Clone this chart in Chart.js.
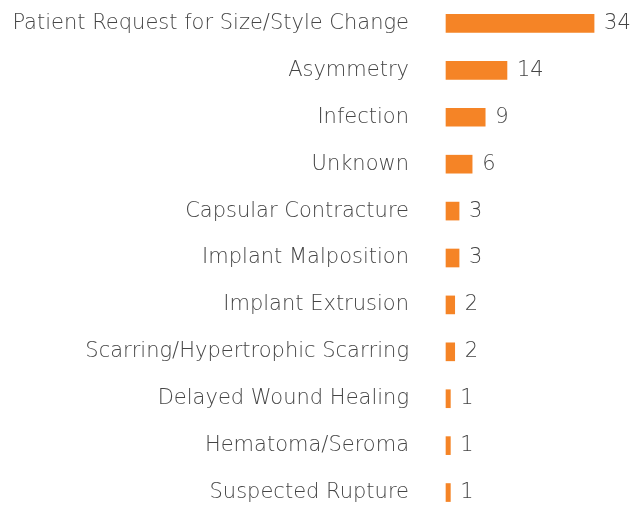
<!DOCTYPE html>
<html lang="en">
<head>
  <meta charset="UTF-8">
  <title>Reasons for Reoperation</title>
  <style>
    html, body { margin: 0; padding: 0; background: #fff; overflow: hidden; }
    #wrap { width: 635px; height: 516px; }
  </style>
  <script src="https://cdn.jsdelivr.net/npm/chart.js"></script>
</head>
<body>
  <div id="wrap"><canvas id="chart"></canvas></div>
  <script>
    const categories = [
      "Patient Request for Size/Style Change",
      "Asymmetry",
      "Infection",
      "Unknown",
      "Capsular Contracture",
      "Implant Malposition",
      "Implant Extrusion",
      "Scarring/Hypertrophic Scarring",
      "Delayed Wound Healing",
      "Hematoma/Seroma",
      "Suspected Rupture"
    ];
    const counts = [34, 14, 9, 6, 3, 3, 2, 2, 1, 1, 1];

    const textColor = "#454545";
    const fontFamily = "'DejaVu Sans', sans-serif";

    // numbers to the right of each bar
    const valueLabels = {
      id: "valueLabels",
      afterDatasetsDraw(chart) {
        const ctx = chart.ctx;
        const meta = chart.getDatasetMeta(0);
        ctx.save();
        ctx.font = "300 21px " + fontFamily;
        ctx.fillStyle = textColor;
        ctx.textAlign = "left";
        ctx.textBaseline = "middle";
        meta.data.forEach((bar, i) => {
          ctx.fillText(counts[i], bar.x + 10, bar.y);
        });
        ctx.restore();
      }
    };

    new Chart(document.getElementById("chart"), {
      type: "bar",
      data: {
        labels: categories,
        datasets: [{
          data: counts,
          backgroundColor: "#F58426",
          barThickness: 18,
          clip: false
        }]
      },
      options: {
        indexAxis: "y",
        responsive: true,
        maintainAspectRatio: false,
        animation: false,
        layout: { padding: 0 },
        plugins: {
          legend: { display: false },
          tooltip: { enabled: false }
        },
        scales: {
          x: {
            display: false,
            min: 0,
            max: 43.4
          },
          y: {
            offset: true,
            afterFit(scale) {
              scale.width = 446;
              scale.paddingTop = 0;
              scale.paddingBottom = 0;
            },
            grid: { display: false, drawTicks: false },
            border: { display: false },
            ticks: {
              padding: 37,
              color: textColor,
              font: { family: fontFamily, size: 21, weight: 300 }
            }
          }
        }
      },
      plugins: [valueLabels]
    });
  </script>
</body>
</html>
